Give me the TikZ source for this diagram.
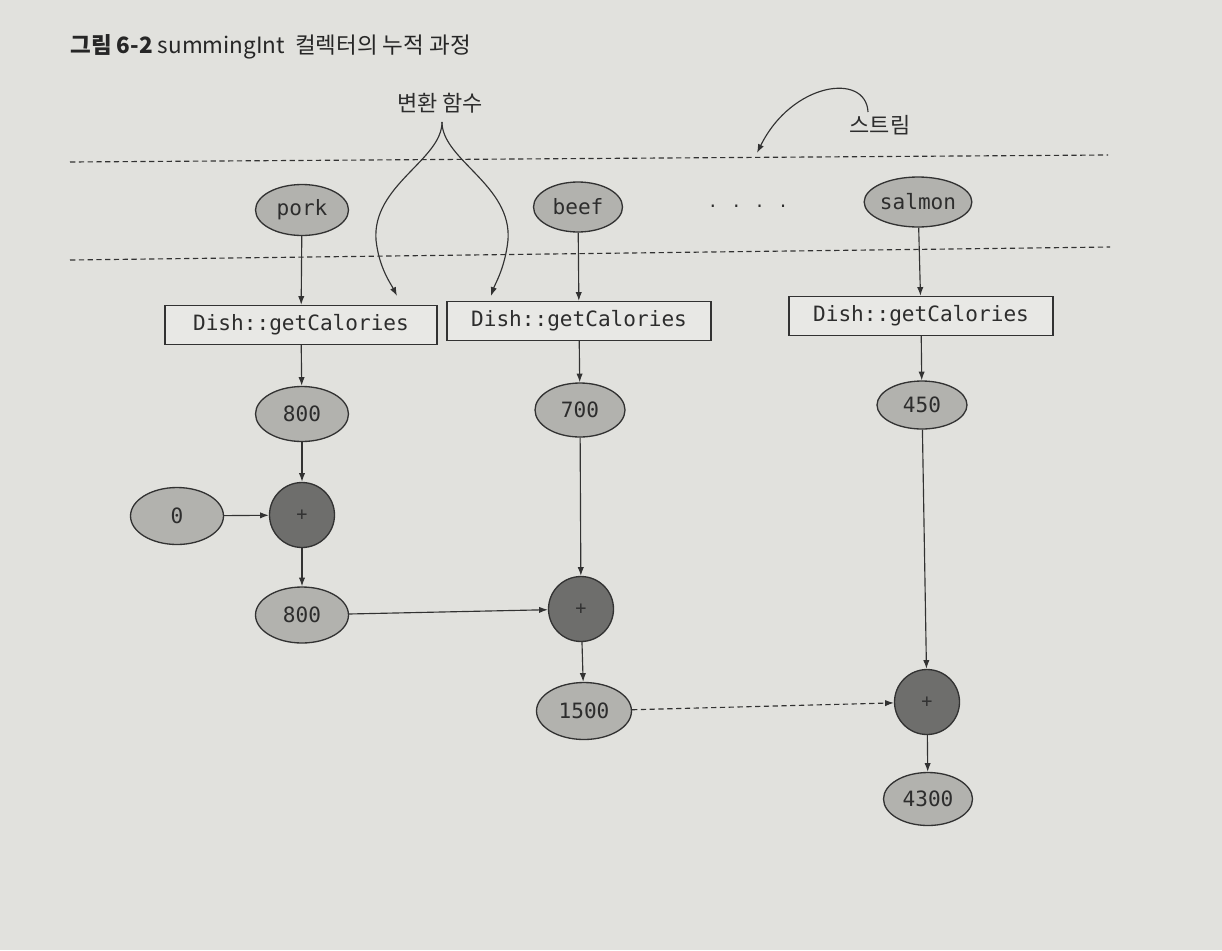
\documentclass[tikz,border=0pt]{standalone}
\usepackage{fontspec}
\setmainfont{Noto Sans CJK KR}
\newfontfamily\krfont{Noto Sans CJK KR}
\newfontfamily\monofont{DejaVu Sans Mono}
\usetikzlibrary{arrows.meta,shapes.geometric}
\definecolor{bgc}{RGB}{225,225,221}
\definecolor{linec}{RGB}{50,50,50}
\definecolor{ovalc}{RGB}{178,178,174}
\definecolor{plusc}{RGB}{110,110,108}
\definecolor{boxc}{RGB}{232,232,229}
\definecolor{txtc}{RGB}{45,45,45}
\tikzset{
  oval/.style={ellipse, draw=linec, fill=ovalc, line width=0.75pt, inner sep=0pt,
    text=txtc, font=\monofont\fontsize{12}{14}\selectfont},
  plusnode/.style={circle, draw=linec, fill=plusc, line width=0.75pt, inner sep=0pt,
    minimum size=1.3cm, text=black!80, font=\monofont\fontsize{10.5}{12}\selectfont},
  fnbox/.style={rectangle, draw=linec, fill=boxc, line width=0.75pt, inner sep=0pt,
    minimum width=5.28cm, minimum height=0.78cm, text=txtc,
    font=\monofont\fontsize{12}{14}\selectfont},
  arr/.style={draw=linec, line width=0.65pt, -{Latex[length=5pt,width=3.6pt]}},
  dline/.style={draw=linec, line width=0.65pt, dash pattern=on 3pt off 2pt},
  label/.style={text=txtc, font=\krfont\fontsize{12.5}{15}\selectfont, inner sep=0pt}
}
\begin{document}
\begin{tikzpicture}[x=0.02cm,y=-0.02cm]
\fill[bgc] (0,0) rectangle (1222,950);
\useasboundingbox (0,0) rectangle (1222,950);

% title
\node[anchor=base west, inner sep=0pt, text=black!85, font=\krfont\fontsize{12.8}{15}\selectfont]
  (title) at (70,53) {\textbf{그림 6-2} summingInt\ \ 컬렉터의 누적 과정};

% labels
\node[label] (fnlabel) at (440,103) {변환 함수};
\node[label] (streamlabel) at (880,125) {스트림};

% dashed stream borders
\coordinate (d1l) at (70,162);
\coordinate (d1r) at (1108,155);
\coordinate (d2l) at (70,260);
\coordinate (d2r) at (1110,247);
\draw[dline] (d1l) -- (d1r);
\draw[dline] (d2l) -- (d2r);

% stream elements
\node[oval, minimum width=1.86cm, minimum height=1.02cm] (pork) at (302,210) {pork};
\node[oval, minimum width=1.78cm, minimum height=1.0cm] (beef) at (578,207) {beef};
\node[oval, minimum width=1.82cm, minimum height=1.0cm] (salmon) at (918,202) {salmon};
\node[inner sep=0pt, text=txtc, font=\monofont\fontsize{9.5}{11}\selectfont] (dots) at (748,206) {. . . .};

% transformation boxes
\node[fnbox, minimum width=5.44cm] (box1) at (301,325) {Dish::getCalories};
\node[fnbox] (box2) at (579,321) {Dish::getCalories};
\node[fnbox] (box3) at (921,316) {Dish::getCalories};

% values
\node[oval, minimum width=1.86cm, minimum height=1.1cm] (v800a) at (302,414) {800};
\node[oval, minimum width=1.8cm, minimum height=1.08cm] (v700) at (580,410) {700};
\node[oval, minimum width=1.8cm, minimum height=0.96cm] (v450) at (922,405) {450};
\node[oval, minimum width=1.86cm, minimum height=1.14cm] (zero) at (177,516) {0};
\node[plusnode] (plusA) at (302,515) {+};
\node[oval, minimum width=1.86cm, minimum height=1.12cm] (v800b) at (302,615) {800};
\node[plusnode] (plusB) at (581,609) {+};
\node[oval, minimum width=1.9cm, minimum height=1.14cm] (v1500) at (584,711) {1500};
\node[plusnode] (plusC) at (927,702) {+};
\node[oval, minimum width=1.78cm, minimum height=1.06cm] (v4300) at (928,799) {4300};

% arrows
\draw[arr] (pork) -- (box1);
\draw[arr] (beef) -- (box2);
\draw[arr] (salmon) -- (box3);
\draw[arr] (box1) -- (v800a);
\draw[arr] (box2) -- (v700);
\draw[arr] (box3) -- (v450);
\draw[arr] (v800a) -- (plusA);
\draw[arr] (zero) -- (plusA);
\draw[arr] (plusA) -- (v800b);
\draw[arr] (v800b) -- (plusB);
\draw[arr] (v700) -- (plusB);
\draw[arr] (plusB) -- (v1500);
\draw[arr, dash pattern=on 3pt off 2pt] (v1500) -- (plusC);
\draw[arr] (v450) -- (plusC);
\draw[arr] (plusC) -- (v4300);

% transformation function curves
\coordinate (fnapex) at (442,122);
\coordinate (fnleft) at (397,296);
\coordinate (fnright) at (491,296);
\draw[arr] (fnapex) .. controls (442,160) and (372,185) .. (376,240)
  .. controls (379,268) and (391,284) .. (fnleft);
\draw[arr] (fnapex) .. controls (442,160) and (512,185) .. (508,240)
  .. controls (505,268) and (495,284) .. (fnright);

% stream pointer curve
\coordinate (stStart) at (868,112);
\coordinate (stEnd) at (757,153);
\draw[arr] (stStart) .. controls (866,72) and (792,82) .. (stEnd);
\end{tikzpicture}
\end{document}
